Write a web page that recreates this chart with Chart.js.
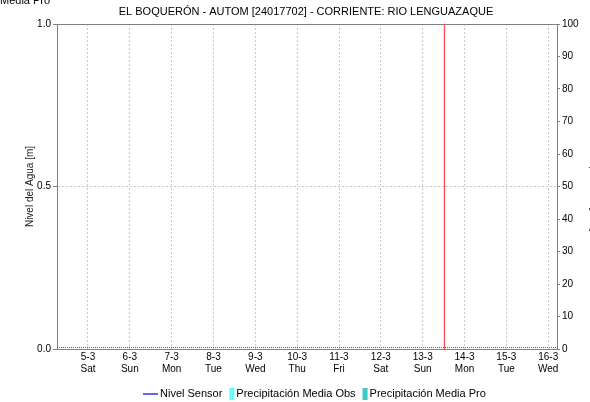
<!DOCTYPE html>
<html>
<head>
<meta charset="utf-8">
<script src="https://cdn.jsdelivr.net/npm/chart.js@4"></script>
<style>
  html, body { margin: 0; padding: 0; background: #fff; }
  #wrap { width: 590px; height: 402px; position: relative; }
</style>
</head>
<body>
<div id="wrap"><canvas id="nivelChart" width="590" height="402"></canvas></div>
<script>
// days shown on the x axis (index 0 = 5-3)
const dayLabels = ["5-3", "6-3", "7-3", "8-3", "9-3", "10-3", "11-3", "12-3", "13-3", "14-3", "15-3", "16-3"];
const weekDays = ["Sat", "Sun", "Mon", "Tue", "Wed", "Thu", "Fri", "Sat", "Sun", "Mon", "Tue", "Wed"];
const xRange = [-0.74, 11.21];

// series (no readings in the window)
const nivelSensor = [];
const precipMediaObs = [];
const precipMediaPro = [];

// "now" marker, in days from 5-3
const nowMarker = 8.52;

const levelTicks = [0, 0.5, 1.0];
const precipTicks = [0, 10, 20, 30, 40, 50, 60, 70, 80, 90, 100];

const titleText = "EL BOQUERÓN - AUTOM [24017702] - CORRIENTE: RIO LENGUAZAQUE";
const FONT = "Liberation Sans, Arial, sans-serif";

// plot frame, title, clipped leftovers and the legend are drawn by hand
const extrasPlugin = {
  id: "extras",
  beforeDatasetsDraw(chart) {
    const a = chart.chartArea;
    const ctx = chart.ctx;
    ctx.save();
    ctx.strokeStyle = "#808080";
    ctx.lineWidth = 1;
    ctx.beginPath();
    ctx.moveTo(a.left, a.top + 0.5);
    ctx.lineTo(a.right, a.top + 0.5);
    ctx.stroke();
    // dotted strip just above the bottom axis
    ctx.setLineDash([1, 1]);
    ctx.strokeStyle = "#606060";
    ctx.beginPath();
    ctx.moveTo(a.left, a.bottom - 1.5);
    ctx.lineTo(a.right, a.bottom - 1.5);
    ctx.stroke();
    ctx.restore();
  },
  afterDraw(chart) {
    const ctx = chart.ctx;
    const area = chart.chartArea;
    ctx.save();
    ctx.fillStyle = "#000";
    ctx.font = "11px " + FONT;
    ctx.textBaseline = "alphabetic";
    ctx.textAlign = "left";
    ctx.fillText("Media Pro", 0, 4);
    ctx.textAlign = "center";
    ctx.fillText(titleText, 306, 15);

    // right axis title, mostly outside the canvas
    ctx.save();
    ctx.translate(591, (area.top + area.bottom) / 2);
    ctx.rotate(Math.PI / 2);
    ctx.fillStyle = "#444";
    ctx.fillText("Precipitación [mm]", 0, 0);
    ctx.restore();

    // legend
    const items = chart.data.datasets.filter(d => d.label);
    ctx.textAlign = "left";
    ctx.textBaseline = "middle";
    const y = 394;
    let x = 143;
    items.forEach(d => {
      if (d.type === "line") {
        ctx.strokeStyle = d.borderColor;
        ctx.lineWidth = 1.2;
        ctx.beginPath();
        ctx.moveTo(x, y);
        ctx.lineTo(x + 15, y);
        ctx.stroke();
        x += 17;
      } else {
        ctx.fillStyle = d.backgroundColor;
        ctx.fillRect(x, y - 6, 5, 12);
        x += 7;
      }
      ctx.fillStyle = "#000";
      ctx.fillText(d.label, x, y);
      x += ctx.measureText(d.label).width + 7;
    });
    ctx.restore();
  }
};

const ctx = document.getElementById("nivelChart").getContext("2d");

const nivelChart = new Chart(ctx, {
  data: {
    datasets: [
      {
        type: "line",
        label: "Nivel Sensor",
        data: nivelSensor,
        borderColor: "#0000ff",
        borderWidth: 1,
        pointRadius: 0,
        yAxisID: "y"
      },
      {
        type: "bar",
        label: "Precipitación Media Obs",
        data: precipMediaObs,
        backgroundColor: "#66ffff",
        yAxisID: "y2"
      },
      {
        type: "bar",
        label: "Precipitación Media Pro",
        data: precipMediaPro,
        backgroundColor: "#40c8c8",
        yAxisID: "y2"
      },
      {
        type: "line",
        label: "",
        data: [{ x: nowMarker, y: 0 }, { x: nowMarker, y: 1 }],
        borderColor: "#ff4646",
        borderWidth: 1.2,
        pointRadius: 0,
        yAxisID: "y"
      }
    ]
  },
  options: {
    animation: false,
    responsive: false,
    devicePixelRatio: 1,
    layout: { padding: { top: 24, bottom: 18, left: 0, right: 0 } },
    plugins: {
      legend: { display: false },
      title: { display: false },
      tooltip: { enabled: false }
    },
    scales: {
      x: {
        type: "linear",
        offset: false,
        min: xRange[0],
        max: xRange[1],
        afterBuildTicks: axis => {
          axis.ticks = dayLabels.map((_, i) => ({ value: i }));
        },
        afterFit: axis => { axis.height = 35; },
        ticks: {
          autoSkip: false,
          maxRotation: 0,
          padding: 2,
          color: "#000",
          font: { family: FONT, size: 10 },
          callback: (val, i) => [dayLabels[i], weekDays[i]]
        },
        grid: {
          offset: false,
          color: "#c8c8c8",
          drawTicks: false
        },
        border: { color: "#808080", dash: [2, 2] }
      },
      y: {
        position: "left",
        min: 0,
        max: 1,
        afterBuildTicks: axis => {
          axis.ticks = levelTicks.map(v => ({ value: v }));
        },
        afterFit: axis => { axis.width = 57; },
        title: {
          display: true,
          text: "Nivel del Agua [m]",
          color: "#222",
          font: { family: FONT, size: 10 },
          padding: { top: 24, bottom: 0 }
        },
        ticks: {
          autoSkip: false,
          color: "#000",
          font: { family: FONT, size: 10 },
          padding: 2,
          callback: v => v.toFixed(1)
        },
        grid: {
          color: "#c8c8c8",
          tickColor: "#808080",
          tickLength: 4
        },
        border: { color: "#808080", dash: [2, 2] }
      },
      y2: {
        position: "right",
        min: 0,
        max: 100,
        afterBuildTicks: axis => {
          axis.ticks = precipTicks.map(v => ({ value: v }));
        },
        afterFit: axis => { axis.width = 33; },
        ticks: {
          autoSkip: false,
          color: "#000",
          font: { family: FONT, size: 10 },
          padding: 2
        },
        grid: {
          drawOnChartArea: false,
          tickColor: "#808080",
          tickLength: 3
        },
        border: { color: "#808080" }
      }
    }
  },
  plugins: [extrasPlugin]
});
</script>
</body>
</html>
